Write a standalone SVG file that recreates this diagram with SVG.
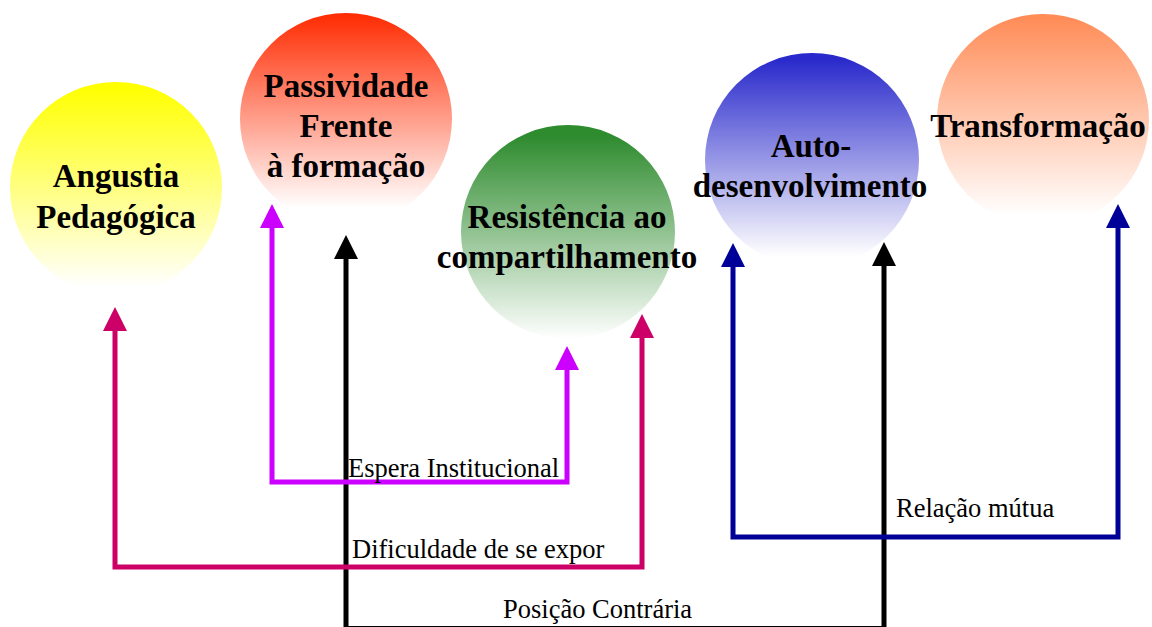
<svg xmlns="http://www.w3.org/2000/svg" width="1152" height="627" viewBox="0 0 1152 627">
<style>
.node{font-family:"Liberation Serif","Times New Roman",serif;font-weight:bold;font-size:33px;fill:#000;text-anchor:middle}
.lbl{font-family:"Liberation Serif","Times New Roman",serif;font-size:26.5px;fill:#000}
.conn{fill:none;stroke-width:5;stroke-linejoin:miter;stroke-linecap:butt}
</style>
<defs>
<linearGradient id="gY" x1="0" y1="0" x2="0" y2="1"><stop offset="0.02" stop-color="#ffff00"/><stop offset="0.97" stop-color="#ffffff"/></linearGradient>
<linearGradient id="gR" x1="0" y1="0" x2="0" y2="1"><stop offset="0" stop-color="#ff2a00"/><stop offset="0.92" stop-color="#ffffff"/></linearGradient>
<linearGradient id="gG" x1="0" y1="0" x2="0" y2="1"><stop offset="0.05" stop-color="#2e8b2e"/><stop offset="1" stop-color="#ffffff"/></linearGradient>
<linearGradient id="gB" x1="0" y1="0" x2="0" y2="1"><stop offset="0.03" stop-color="#2a2acc"/><stop offset="0.95" stop-color="#ffffff"/></linearGradient>
<linearGradient id="gO" x1="0" y1="0" x2="0" y2="1"><stop offset="0" stop-color="#ff8a55"/><stop offset="0.95" stop-color="#ffffff"/></linearGradient>
<marker id="aP" viewBox="0 0 24 24" refX="0" refY="12" markerWidth="24" markerHeight="24" markerUnits="userSpaceOnUse" orient="auto-start-reverse"><path d="M0,0 L24,12 L0,24 z" fill="#cc00ff"/></marker>
<marker id="aM" viewBox="0 0 24 24" refX="0" refY="12" markerWidth="24" markerHeight="24" markerUnits="userSpaceOnUse" orient="auto-start-reverse"><path d="M0,0 L24,12 L0,24 z" fill="#cc0066"/></marker>
<marker id="aK" viewBox="0 0 24 24" refX="0" refY="12" markerWidth="24" markerHeight="24" markerUnits="userSpaceOnUse" orient="auto-start-reverse"><path d="M0,0 L24,12 L0,24 z" fill="#000000"/></marker>
<marker id="aN" viewBox="0 0 24 24" refX="0" refY="12" markerWidth="24" markerHeight="24" markerUnits="userSpaceOnUse" orient="auto-start-reverse"><path d="M0,0 L24,12 L0,24 z" fill="#000099"/></marker>
</defs>
<rect width="1152" height="627" fill="#ffffff"/>
<g id="angustia">
<circle cx="116" cy="188" r="106" fill="url(#gY)"/>
<text class="node" x="116" y="187">Angustia</text>
<text class="node" x="116" y="228">Pedagógica</text>
</g>
<g id="passividade">
<circle cx="346" cy="119" r="106" fill="url(#gR)"/>
<text class="node" x="346" y="97">Passividade</text>
<text class="node" x="346" y="137">Frente</text>
<text class="node" x="346" y="177">à formação</text>
</g>
<g id="resistencia">
<circle cx="568" cy="232" r="107" fill="url(#gG)"/>
<text class="node" x="567" y="228">Resistência ao</text>
<text class="node" x="567" y="268">compartilhamento</text>
</g>
<g id="autodesenvolvimento">
<circle cx="812" cy="160" r="107" fill="url(#gB)"/>
<text class="node" x="811" y="157">Auto-</text>
<text class="node" x="810" y="197">desenvolvimento</text>
</g>
<g id="transformacao">
<circle cx="1043" cy="120" r="106" fill="url(#gO)"/>
<text class="node" x="1038" y="137">Transformação</text>
</g>
<g id="connectors">
<path class="conn" stroke="#000000" d="M346,259 V628.5 H884 V266" marker-start="url(#aK)" marker-end="url(#aK)"/>
<path class="conn" stroke="#cc00ff" d="M272,228 V482 H567 V370" marker-start="url(#aP)" marker-end="url(#aP)"/>
<path class="conn" stroke="#cc0066" d="M115,331 V567 H642 V338" marker-start="url(#aM)" marker-end="url(#aM)"/>
<path class="conn" stroke="#000099" d="M733,267 V537 H1118 V228" marker-start="url(#aN)" marker-end="url(#aN)"/>
<text class="lbl" x="348" y="477">Espera Institucional</text>
<text class="lbl" x="352" y="558">Dificuldade de se expor</text>
<text class="lbl" x="503" y="618">Posição Contrária</text>
<text class="lbl" x="896" y="517">Relação mútua</text>
</g>
</svg>
